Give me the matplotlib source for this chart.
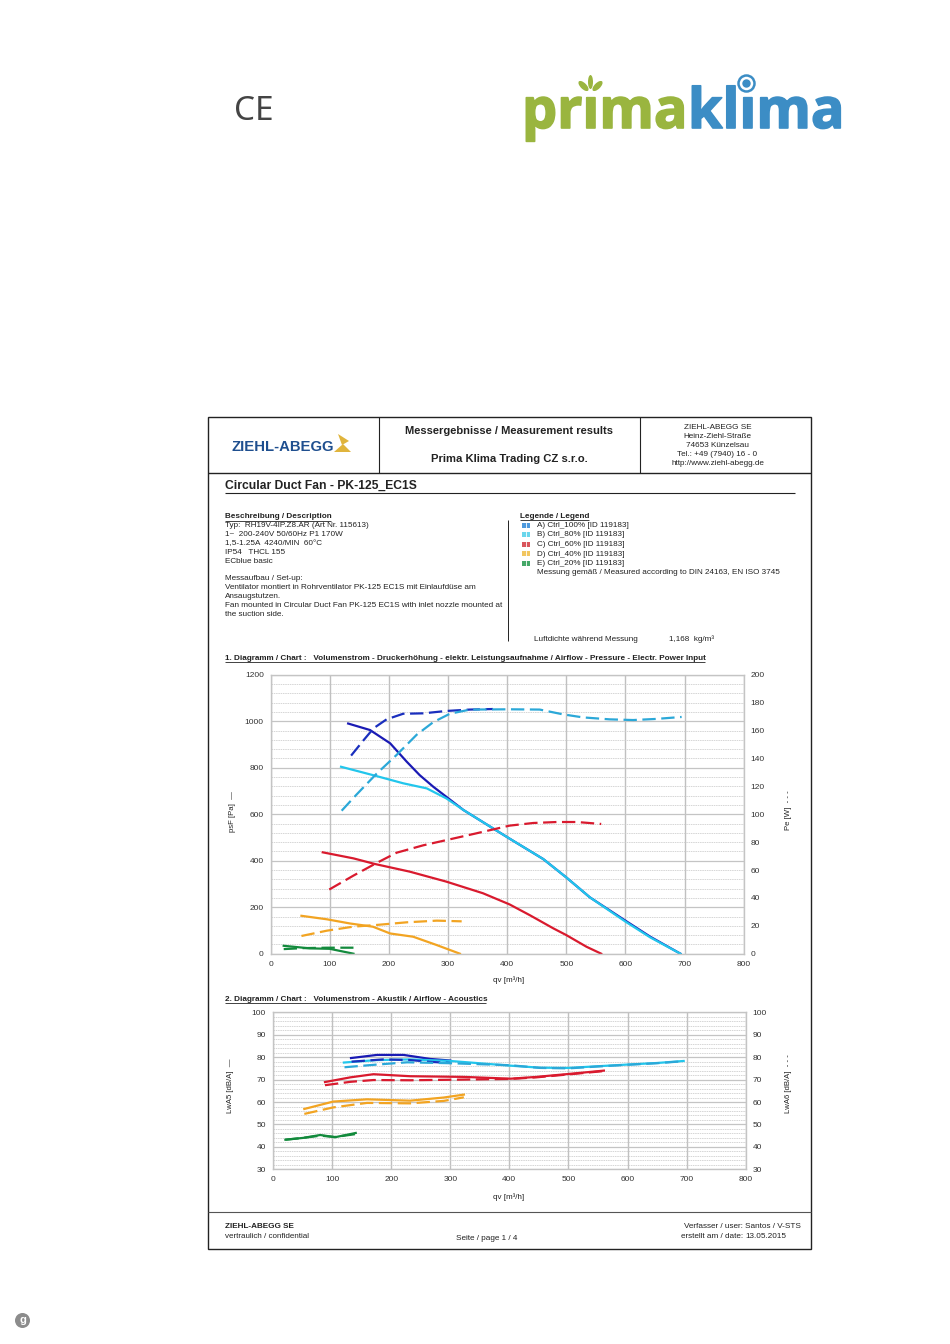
import numpy as np
import matplotlib
matplotlib.use('Agg')
import matplotlib.pyplot as plt
import matplotlib.patheffects as pe
from matplotlib.patches import Rectangle, Polygon, Circle, Ellipse

plt.rcParams['font.family'] = ['Liberation Sans', 'DejaVu Sans']

W, H = 950, 1344

# chart 1: airflow vs pressure (left axis) and power (right axis)
blue_p_x = [131, 168, 202, 230, 252, 275, 297, 326, 376, 404, 461, 500, 540, 600, 642, 693]
blue_p_y = [990, 962, 905, 826, 768, 718, 675, 618, 539, 495, 407, 328, 242, 142, 73, 0]
cyan_p_x = [119, 176, 224, 264, 297, 326, 376, 404, 461, 500, 540, 600, 642, 693]
cyan_p_y = [804, 766, 733, 711, 668, 618, 539, 495, 407, 328, 242, 138, 70, 0]
red_p_x = [88, 140, 176, 235, 297, 359, 404, 438, 478, 500, 534, 559]
red_p_y = [436, 410, 386, 353, 310, 260, 212, 166, 109, 80, 30, 0]
orange_p_x = [52, 95, 134, 173, 202, 241, 281, 320]
orange_p_y = [163, 148, 130, 116, 87, 73, 37, 0]
green_p_x = [22, 66, 100, 140]
green_p_y = [34, 23, 21, 0]

blue_w_x = [136, 157, 174, 196, 224, 258, 297, 337, 376]
blue_w_y = [142, 153, 161.6, 168, 172, 172.3, 174, 175, 175.4]
cyan_w_x = [120, 145, 179, 213, 247, 275, 303, 337, 404, 455, 494, 528, 573, 613, 652, 695]
cyan_w_y = [102.5, 114, 129, 142.5, 157, 166, 172, 175, 175.2, 175, 171.6, 169.4, 168, 167.5, 168.3, 169.7]
red_w_x = [99, 140, 179, 213, 258, 303, 348, 404, 444, 484, 518, 559]
red_w_y = [46, 56, 65, 72.4, 77.7, 82, 86.3, 91.8, 93.7, 94.4, 94.4, 93]
orange_w_x = [52, 95, 140, 179, 230, 281, 323]
orange_w_y = [12.7, 16.5, 19.4, 20.6, 22.5, 23.7, 23.2]
green_w_x = [22, 55, 95, 140]
green_w_y = [3.3, 4, 4.3, 4.3]

# chart 2: airflow vs acoustics
blue_s_x = [132, 176, 221, 266, 300]
blue_s_y = [79.6, 81, 81, 79.2, 78.5]
cyan_s_x = [120, 176, 232, 300, 402, 452, 500, 553, 600, 650, 695]
cyan_s_y = [77.6, 78.7, 79, 78.3, 76.2, 75.3, 75.2, 76, 76.7, 77.4, 78.3]
red_s_x = [88, 131, 170, 232, 323, 402, 446, 500, 560]
red_s_y = [68.9, 71, 72.4, 71.5, 71.2, 70.4, 71.2, 72.5, 74]
orange_s_x = [53, 102, 159, 232, 289, 323]
orange_s_y = [56.9, 60.2, 61.2, 60.6, 62, 63.3]
green_s_x = [21, 51, 80, 105, 140]
green_s_y = [43.2, 44, 45.3, 44.3, 46.2]

blue_d_x = [133, 187, 232, 266, 300]
blue_d_y = [78, 79, 78.7, 77.9, 77.4]
cyan_d_x = [121, 176, 227, 300, 402, 452, 500, 553, 600, 650, 695]
cyan_d_y = [75.5, 76.7, 77.7, 77.3, 76.4, 75.2, 75, 75.9, 76.6, 77.3, 78.2]
red_d_x = [88, 131, 170, 232, 323, 402, 446, 500, 560]
red_d_y = [67.5, 69, 69.8, 69.7, 70, 70.3, 71, 72.3, 73.8]
orange_d_x = [53, 102, 159, 232, 289, 323]
orange_d_y = [54.7, 57.6, 59.6, 59.4, 60.5, 62.1]
green_d_x = [21, 51, 80, 105, 140]
green_d_y = [43.2, 44, 45, 44.4, 45.7]

colors = ['#1a1ab4', '#22c6ec', '#d91a2e', '#f2a422', '#128a3c']
dash_colors = ['#1a2fbe', '#2ba8d8', '#d91a2e', '#f2a422', '#128a3c']
swatch_colors = ['#4f9ade', '#6ad6ec', '#d9555c', '#f2c660', '#45a868']

x_ticks = [0, 100, 200, 300, 400, 500, 600, 700, 800]
legend_names = ['A) Ctrl_100% [ID 119183]', 'B) Ctrl_80% [ID 119183]', 'C) Ctrl_60% [ID 119183]',
                'D) Ctrl_40% [ID 119183]', 'E) Ctrl_20% [ID 119183]']
description = ['Typ:  RH19V-4IP.Z8.AR (Art Nr. 115613)', '1~  200-240V 50/60Hz P1 170W',
               '1,5-1.25A  4240/MIN  60°C', 'IP54   THCL 155', 'ECblue basic']
setup = ['Messaufbau / Set-up:', 'Ventilator montiert in Rohrventilator PK-125 EC1S mit Einlaufdüse am',
         'Ansaugstutzen.', 'Fan mounted in Circular Duct Fan PK-125 EC1S with inlet nozzle mounted at',
         'the suction side.']
address = ['ZIEHL-ABEGG SE', 'Heinz-Ziehl-Straße', '74653 Künzelsau', 'Tel.: +49 (7940) 16 - 0',
           'http://www.ziehl-abegg.de']

fig = plt.figure(figsize=(W / 100, H / 100), dpi=100)

# page layer in pixel coordinates
page = fig.add_axes([0, 0, 1, 1])
page.set_xlim(0, W)
page.set_ylim(H, 0)
page.axis('off')


def txt(x, y, s, size=5.9, weight='normal', ha='left', color='#222222', **kw):
    page.text(x, y + 1, s, fontsize=size, fontweight=weight, ha=ha, va='center', color=color, **kw)


def rule(x0, y0, x1, y1, lw=1.0, color='#222222'):
    page.plot([x0, x1], [y0, y1], color=color, lw=lw, solid_capstyle='butt')


def make_chart(box, ylim, y_ticks, y2_ticks, minor_step, y2lim):
    x0, y0, x1, y1 = box
    ax = fig.add_axes([x0 / W, 1 - y1 / H, (x1 - x0) / W, (y1 - y0) / H])
    ax.set_xlim(0, 800)
    ax.set_ylim(*ylim)
    ax.set_xticks(x_ticks)
    ax.set_yticks(y_ticks)
    ax.set_yticks(np.arange(ylim[0], ylim[1] + minor_step, minor_step), minor=True)
    ax.grid(True, which='minor', axis='y', color='#cccccc', lw=0.55, ls=(0, (2, 1)))
    ax.grid(True, which='major', axis='y', color='#c4c4c4', lw=0.9)
    ax.grid(True, which='major', axis='x', color='#c0c0c0', lw=1.0)
    ax.set_axisbelow(True)
    ax.tick_params(which='both', length=0, labelsize=6, labelcolor='#333333', pad=5)
    for s in ax.spines.values():
        s.set_color('#c4c4c4')
        s.set_linewidth(1.0)
    ax2 = ax.twinx()
    ax2.set_ylim(*y2lim)
    ax2.set_yticks(y2_ticks)
    ax2.tick_params(length=0, labelsize=6, labelcolor='#333333', pad=5)
    for s in ax2.spines.values():
        s.set_visible(False)
    return ax, ax2


# header frame
page.add_patch(Rectangle((207.5, 417), 603.5, 832, fill=False, ec='#222222', lw=1.0))
rule(207.5, 473, 811, 473)
rule(379, 417, 379, 473, lw=0.8)
rule(640, 417, 640, 473, lw=0.8)
rule(225, 492.7, 795, 492.7, lw=0.8)
rule(508, 520, 508, 641, lw=0.7)
rule(207.5, 1212, 811, 1212, lw=0.8, color='#555555')

# top logos
page.text(234, 111, 'CE', fontsize=24, family='Noto Sans', color='#444444', va='center')
thick_g = [pe.withStroke(linewidth=1.2, foreground='#9ab53f')]
thick_b = [pe.withStroke(linewidth=1.2, foreground='#3c8dc5')]
page.text(522, 128, 'prima', fontsize=40, fontweight='bold', family='Open Sans', color='#9ab53f',
          va='baseline', path_effects=thick_g)
page.text(688, 128, 'klima', fontsize=40, fontweight='bold', family='Open Sans', color='#3c8dc5',
          va='baseline', path_effects=thick_b)
page.add_patch(Rectangle((582, 82), 16, 12.5, fc='white', ec='none', zorder=3))
page.add_patch(Ellipse((590.5, 82), 5, 14, fc='#9ab53f', ec='none', zorder=4))
page.add_patch(Ellipse((583.5, 86), 6, 13, angle=-45, fc='#9ab53f', ec='none', zorder=4))
page.add_patch(Ellipse((597.5, 86), 6, 13, angle=45, fc='#9ab53f', ec='none', zorder=4))
page.add_patch(Rectangle((738, 83), 17, 11.5, fc='white', ec='none', zorder=3))
page.add_patch(Circle((746.5, 83.5), 8, fc='white', ec='#3c8dc5', lw=1.8, zorder=4))
page.add_patch(Circle((746.5, 83.5), 4.2, fc='#3c8dc5', ec='none', zorder=5))

# header texts
txt(509, 430, 'Messergebnisse / Measurement results', size=8, weight='bold', ha='center')
txt(509, 458.5, 'Prima Klima Trading CZ s.r.o.', size=8.1, weight='bold', ha='center')
for i, s in enumerate(address):
    txt(717.5, 426.5 + i * 8.9, s, size=5.9, ha='center')
txt(231, 446, 'ZIEHL-ABEGG', size=10.7, weight='bold', color='#1f4f8f')
page.add_patch(Polygon([(338, 434), (349, 441), (342, 445)], fc='#e0b43c', ec='none'))
page.add_patch(Polygon([(334, 452), (343, 444), (351, 452)], fc='#e0b43c', ec='none'))
txt(225, 485, 'Circular Duct Fan - PK-125_EC1S', size=8.7, weight='bold')

txt(225, 515.5, 'Beschreibung / Description', size=5.85, weight='bold')
rule(225, 520.5, 331, 520.5, lw=0.6)
for i, s in enumerate(description):
    txt(225, 524.5 + i * 8.9, s)
for i, s in enumerate(setup):
    txt(225, 577.5 + i * 9, s)

txt(520, 515, 'Legende / Legend', size=5.85, weight='bold')
rule(520, 520, 589, 520, lw=0.6)
for i, s in enumerate(legend_names):
    y = 525 + i * 9.5
    page.add_patch(Rectangle((522, y - 2.5), 8, 5, fc=swatch_colors[i], ec='none'))
    page.plot([526, 526], [y - 2.5, y + 2.5], color='white', lw=0.6)
    txt(537, y - 0.5, s)
txt(537, 572, 'Messung gemäß / Measured according to DIN 24163, EN ISO 3745')
txt(534, 638.5, 'Luftdichte während Messung')
txt(669, 638.5, '1,168  kg/m³')

# chart 1
txt(225, 657.5, '1. Diagramm / Chart :   Volumenstrom - Druckerhöhung - elektr. Leistungsaufnahme / Airflow - Pressure - Electr. Power Input',
    size=5.85, weight='bold')
rule(225, 662, 705, 662, lw=0.6)
ax1, ax1r = make_chart((270.7, 674.7, 743.7, 953.7), (0, 1200), np.arange(0, 1201, 200),
                       np.arange(0, 201, 20), 40, (0, 200))
ax1.plot(blue_p_x, blue_p_y, color=colors[0], lw=1.6)
ax1.plot(cyan_p_x, cyan_p_y, color=colors[1], lw=1.6)
ax1.plot(red_p_x, red_p_y, color=colors[2], lw=1.6)
ax1.plot(orange_p_x, orange_p_y, color=colors[3], lw=1.6)
ax1.plot(green_p_x, green_p_y, color=colors[4], lw=1.6)
for (xs, ys), c in zip([(blue_w_x, blue_w_y), (cyan_w_x, cyan_w_y), (red_w_x, red_w_y),
                        (orange_w_x, orange_w_y), (green_w_x, green_w_y)], dash_colors):
    ax1r.plot(xs, ys, color=c, lw=1.6, ls=(0, (6, 2.5)))
txt(232, 811, 'psF [Pa]  —', size=5.6, rotation=90, ha='center')
txt(788, 809, 'Pe [W]  - - -', size=5.6, rotation=90, ha='center')
txt(509, 979.5, 'qv [m³/h]', size=5.8, ha='center')

# chart 2
txt(225, 998.5, '2. Diagramm / Chart :   Volumenstrom - Akustik / Airflow - Acoustics', size=5.85, weight='bold')
rule(225, 1003, 486, 1003, lw=0.6)
ax2, ax2r = make_chart((273, 1012.3, 745.7, 1169.3), (30, 100), np.arange(30, 101, 10),
                       np.arange(30, 101, 10), 2, (30, 100))
ax2.plot(blue_s_x, blue_s_y, color=colors[0], lw=1.6)
ax2.plot(cyan_s_x, cyan_s_y, color=colors[1], lw=1.6)
ax2.plot(red_s_x, red_s_y, color=colors[2], lw=1.6)
ax2.plot(orange_s_x, orange_s_y, color=colors[3], lw=1.6)
ax2.plot(green_s_x, green_s_y, color=colors[4], lw=1.6)
for (xs, ys), c in zip([(blue_d_x, blue_d_y), (cyan_d_x, cyan_d_y), (red_d_x, red_d_y),
                        (orange_d_x, orange_d_y), (green_d_x, green_d_y)], dash_colors):
    ax2r.plot(xs, ys, color=c, lw=1.6, ls=(0, (6, 2.5)))
txt(231, 1085, 'LwA5 [dB/A]  —', size=5.6, rotation=90, ha='center')
txt(788, 1083, 'LwA6 [dB/A]  - - -', size=5.6, rotation=90, ha='center')
txt(509, 1196.5, 'qv [m³/h]', size=5.8, ha='center')

# footer
txt(225, 1225, 'ZIEHL-ABEGG SE', size=5.85, weight='bold')
txt(225, 1235, 'vertraulich / confidential', size=5.8)
txt(456, 1237.5, 'Seite / page 1 / 4')
txt(743, 1225, 'Verfasser / user:', ha='right')
txt(745, 1225, 'Santos / V-STS')
txt(743, 1235, 'erstellt am / date:', ha='right')
txt(745, 1235, '13.05.2015')

# small grey badge bottom left
page.add_patch(Circle((22.5, 1320.5), 7.5, fc='#8c8c8c', ec='none'))
txt(22.5, 1319, 'g', size=8, weight='bold', ha='center', color='white')

fig.savefig('out.png', dpi=100)
